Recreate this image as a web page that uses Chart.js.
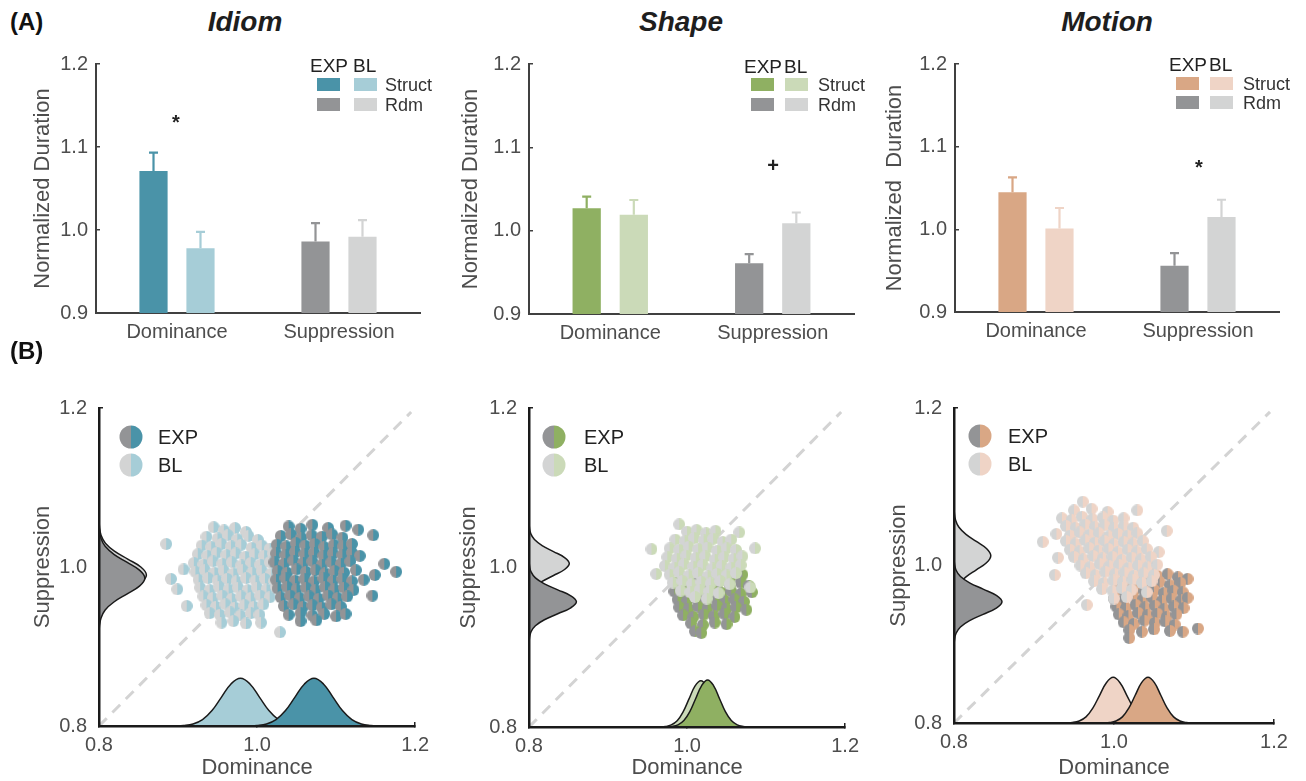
<!DOCTYPE html>
<html>
<head>
<meta charset="utf-8">
<script src="https://cdn.jsdelivr.net/npm/chart.js@4.4.1/dist/chart.umd.min.js"></script>
<style>
  body { margin: 0; background: #fff; width: 1306px; height: 781px; position: relative; overflow: hidden;
         font-family: "Liberation Sans", Arial, Helvetica, sans-serif; }
  canvas { position: absolute; }
  .sw { position: absolute; width: 23px; height: 13px; }
  .dot { position: absolute; width: 23px; height: 23px; border-radius: 50%; transform: translate(-50%, -50%); }
</style>
</head>
<body>
<script>
// ---- data ----
const categories = ['Dominance', 'Suppression'];
const barTicks = [0.9, 1.0, 1.1, 1.2];
const scatterTicks = [0.8, 1.0, 1.2];

const idiomExp = [1.071, 0.986];
const idiomExpErr = [0.0235, 0.0235];
const idiomBl = [0.978, 0.992];
const idiomBlErr = [0.021, 0.021];

const shapeExp = [1.027, 0.961];
const shapeExpErr = [0.015, 0.012];
const shapeBl = [1.019, 1.009];
const shapeBlErr = [0.019, 0.014];

const motionExp = [1.045, 0.956];
const motionExpErr = [0.019, 0.0165];
const motionBl = [1.001, 1.015];
const motionBlErr = [0.026, 0.022];

// bootstrap clouds: [dominance, suppression]
const idiomBlPts = [
  [0.945,1.050],[0.958,1.046],[0.972,1.049],[0.986,1.044],
  [0.936,1.038],[0.950,1.036],[0.963,1.040],[0.975,1.035],[0.989,1.039],[1.001,1.034],
  [0.885,1.029],[0.930,1.027],[0.942,1.025],[0.955,1.029],[0.967,1.026],[0.980,1.028],[0.993,1.024],[1.006,1.027],[1.016,1.023],
  [0.925,1.016],[0.937,1.014],[0.949,1.018],[0.961,1.015],[0.973,1.017],[0.985,1.013],[0.997,1.016],[1.009,1.014],[1.020,1.017],
  [0.920,1.005],[0.932,1.003],[0.944,1.007],[0.956,1.004],[0.968,1.006],[0.980,1.002],[0.992,1.005],[1.004,1.003],[1.016,1.006],[1.025,1.001],
  [0.907,0.997],[0.922,0.994],[0.934,0.996],[0.946,0.993],[0.958,0.995],[0.970,0.992],[0.982,0.996],[0.994,0.993],[1.006,0.995],[1.018,0.992],
  [0.891,0.985],[0.926,0.984],[0.938,0.986],[0.950,0.983],[0.962,0.985],[0.974,0.982],[0.986,0.986],[0.998,0.983],[1.010,0.985],[1.022,0.982],
  [0.899,0.972],[0.928,0.974],[0.940,0.971],[0.952,0.975],[0.964,0.972],[0.976,0.974],[0.988,0.971],[1.000,0.974],[1.012,0.972],[1.024,0.975],
  [0.932,0.963],[0.944,0.961],[0.956,0.964],[0.968,0.960],[0.980,0.963],[0.992,0.961],[1.004,0.964],[1.016,0.962],
  [0.911,0.951],[0.936,0.952],[0.948,0.950],[0.960,0.953],[0.972,0.949],[0.984,0.952],[0.996,0.950],[1.008,0.953],
  [0.940,0.942],[0.953,0.940],[0.966,0.943],[0.979,0.939],[0.992,0.942],[1.003,0.940],
  [0.955,0.930],[0.970,0.932],[0.986,0.929],[1.005,0.930],[1.029,0.918]
];
const idiomExpPts = [
  [1.040,1.051],[1.055,1.048],[1.070,1.053],[1.090,1.049],[1.112,1.052],[1.128,1.047],
  [1.030,1.039],[1.043,1.041],[1.056,1.037],[1.069,1.040],[1.082,1.038],[1.095,1.041],[1.108,1.037],[1.147,1.040],
  [1.025,1.028],[1.037,1.026],[1.049,1.030],[1.061,1.027],[1.073,1.029],[1.085,1.025],[1.097,1.028],[1.109,1.026],[1.120,1.029],
  [1.024,1.017],[1.036,1.015],[1.048,1.019],[1.060,1.016],[1.072,1.018],[1.084,1.014],[1.096,1.017],[1.108,1.015],[1.120,1.018],[1.130,1.014],
  [1.022,1.006],[1.034,1.004],[1.046,1.008],[1.058,1.005],[1.070,1.007],[1.082,1.003],[1.094,1.006],[1.106,1.004],[1.118,1.007],[1.161,1.004],
  [1.026,0.995],[1.038,0.993],[1.050,0.997],[1.062,0.994],[1.074,0.996],[1.086,0.992],[1.098,0.995],[1.110,0.993],[1.125,0.996],[1.149,0.990],[1.176,0.994],
  [1.024,0.984],[1.036,0.986],[1.048,0.983],[1.060,0.985],[1.072,0.982],[1.084,0.986],[1.096,0.983],[1.108,0.985],[1.120,0.982],[1.135,0.984],
  [1.026,0.973],[1.038,0.975],[1.050,0.972],[1.062,0.974],[1.074,0.971],[1.086,0.975],[1.098,0.972],[1.110,0.974],[1.122,0.971],
  [1.030,0.962],[1.042,0.964],[1.054,0.961],[1.066,0.963],[1.078,0.960],[1.090,0.964],[1.102,0.961],[1.114,0.963],[1.146,0.964],
  [1.034,0.951],[1.046,0.953],[1.058,0.950],[1.070,0.952],[1.082,0.949],[1.094,0.953],[1.106,0.950],
  [1.040,0.940],[1.055,0.942],[1.070,0.939],[1.085,0.941],[1.100,0.938],[1.112,0.941],
  [1.055,0.932],[1.075,0.933]
];
const shapeBlPts = [
  [0.990,1.054],
  [1.000,1.045],[1.012,1.047],[1.024,1.043],[1.036,1.046],[1.066,1.044],
  [0.985,1.035],[0.997,1.033],[1.009,1.037],[1.021,1.034],[1.033,1.036],[1.045,1.032],[1.056,1.035],
  [0.955,1.023],[0.978,1.024],[0.990,1.022],[1.002,1.026],[1.014,1.023],[1.026,1.025],[1.038,1.021],[1.050,1.024],[1.062,1.022],[1.086,1.024],
  [0.975,1.013],[0.987,1.011],[0.999,1.015],[1.011,1.012],[1.023,1.014],[1.035,1.010],[1.047,1.013],[1.059,1.011],[1.070,1.014],
  [0.972,1.002],[0.984,1.000],[0.996,1.004],[1.008,1.001],[1.020,1.003],[1.032,0.999],[1.044,1.002],[1.056,1.000],[1.068,1.003],
  [0.961,0.992],[0.978,0.991],[0.990,0.994],[1.002,0.990],[1.014,0.993],[1.026,0.989],[1.038,0.992],[1.050,0.990],[1.062,0.993],
  [0.982,0.981],[0.994,0.983],[1.006,0.979],[1.018,0.982],[1.030,0.980],[1.042,0.983],[1.054,0.979],[1.080,0.975],
  [0.992,0.971],[1.004,0.969],[1.016,0.972],[1.028,0.970],[1.040,0.968],
  [1.010,0.963],[1.025,0.961]
];
const shapeExpPts = [
  [1.040,0.990],[1.055,0.988],[1.070,0.991],
  [0.985,0.980],[0.998,0.978],[1.012,0.981],[1.026,0.979],[1.040,0.982],[1.054,0.978],[1.068,0.981],[1.078,0.977],
  [0.984,0.970],[0.996,0.968],[1.008,0.971],[1.020,0.969],[1.032,0.972],[1.044,0.968],[1.056,0.970],[1.068,0.967],[1.082,0.969],
  [0.988,0.960],[1.000,0.958],[1.012,0.961],[1.024,0.959],[1.036,0.962],[1.048,0.958],[1.060,0.960],[1.072,0.957],
  [0.990,0.950],[1.002,0.948],[1.014,0.951],[1.026,0.949],[1.038,0.952],[1.050,0.948],[1.062,0.950],[1.075,0.947],
  [0.995,0.940],[1.008,0.938],[1.021,0.941],[1.034,0.939],[1.047,0.942],[1.060,0.938],
  [1.005,0.930],[1.020,0.928],[1.035,0.931],[1.050,0.929],
  [1.010,0.920],[1.018,0.918]
];
const motionBlPts = [
  [0.961,1.081],
  [0.950,1.070],[0.972,1.072],[0.992,1.068],[1.029,1.070],
  [0.935,1.060],[0.947,1.058],[0.960,1.062],[0.973,1.059],[0.986,1.061],[0.999,1.057],[1.012,1.060],
  [0.940,1.050],[0.952,1.048],[0.964,1.052],[0.976,1.049],[0.988,1.051],[1.000,1.047],[1.012,1.050],[1.024,1.048],
  [0.928,1.040],[0.945,1.038],[0.957,1.042],[0.969,1.039],[0.981,1.041],[0.993,1.037],[1.005,1.040],[1.017,1.038],[1.029,1.041],[1.066,1.044],
  [0.911,1.030],[0.940,1.031],[0.952,1.028],[0.964,1.032],[0.976,1.029],[0.988,1.031],[1.000,1.027],[1.012,1.030],[1.024,1.028],[1.036,1.031],
  [0.945,1.020],[0.957,1.018],[0.969,1.022],[0.981,1.019],[0.993,1.021],[1.005,1.017],[1.017,1.020],[1.029,1.018],[1.041,1.021],[1.056,1.017],
  [0.930,1.010],[0.950,1.011],[0.962,1.008],[0.974,1.012],[0.986,1.009],[0.998,1.011],[1.010,1.007],[1.022,1.010],[1.034,1.008],[1.046,1.011],
  [0.958,1.000],[0.970,0.998],[0.982,1.002],[0.994,0.999],[1.006,1.001],[1.018,0.997],[1.030,1.000],[1.042,0.998],[1.054,1.001],
  [0.926,0.988],[0.965,0.990],[0.977,0.988],[0.989,0.992],[1.001,0.989],[1.013,0.991],[1.025,0.987],[1.037,0.990],[1.050,0.988],
  [0.975,0.980],[0.987,0.978],[0.999,0.981],[1.011,0.979],[1.023,0.982],[1.035,0.978],[1.047,0.980],
  [0.985,0.970],[0.998,0.968],[1.010,0.971],[1.022,0.969],[1.041,0.966],
  [0.966,0.950],[1.000,0.958],[1.016,0.960]
];
const motionExpPts = [
  [1.035,0.998],[1.050,1.000],
  [1.015,0.988],[1.028,0.986],[1.041,0.990],[1.054,0.987],[1.067,0.989],[1.080,0.985],[1.092,0.983],
  [1.005,0.978],[1.018,0.976],[1.031,0.980],[1.044,0.977],[1.057,0.979],[1.070,0.975],[1.083,0.978],
  [1.002,0.968],[1.014,0.966],[1.026,0.970],[1.038,0.967],[1.050,0.969],[1.062,0.965],[1.074,0.968],[1.086,0.966],
  [1.000,0.958],[1.012,0.956],[1.024,0.960],[1.036,0.957],[1.048,0.959],[1.060,0.955],[1.072,0.958],[1.084,0.956],[1.092,0.959],
  [1.003,0.948],[1.015,0.946],[1.027,0.950],[1.039,0.947],[1.051,0.949],[1.063,0.945],[1.075,0.948],[1.087,0.946],
  [1.006,0.938],[1.018,0.936],[1.030,0.940],[1.042,0.937],[1.054,0.939],[1.066,0.935],[1.078,0.938],
  [1.012,0.928],[1.025,0.926],[1.038,0.930],[1.051,0.927],[1.064,0.929],[1.076,0.925],[1.105,0.920],
  [1.019,0.918],[1.035,0.916],[1.050,0.919],[1.070,0.917],[1.086,0.916],
  [1.019,0.908]
];

// marginal density heights above the axis (0.8), sampled along each curve
const dens60 = [0, 0.0007, 0.0026, 0.0081, 0.0195, 0.0364, 0.0529, 0.060, 0.0529, 0.0364, 0.0195, 0.0081, 0.0026, 0.0007, 0];
const dens59 = [0, 0.0006, 0.0026, 0.0080, 0.0192, 0.0358, 0.0520, 0.059, 0.0520, 0.0358, 0.0192, 0.0080, 0.0026, 0.0006, 0];
const dens58 = [0, 0.0006, 0.0026, 0.0078, 0.0189, 0.0352, 0.0512, 0.058, 0.0512, 0.0352, 0.0189, 0.0078, 0.0026, 0.0006, 0];
const dens51 = [0, 0.0006, 0.0022, 0.0069, 0.0166, 0.0310, 0.0450, 0.051, 0.0450, 0.0310, 0.0166, 0.0069, 0.0022, 0.0006, 0];
const dens46 = [0, 0.0005, 0.0020, 0.0062, 0.0150, 0.0279, 0.0406, 0.046, 0.0406, 0.0279, 0.0150, 0.0062, 0.0020, 0.0005, 0];

const idiomDomBlPos  = [0.895,0.907,0.919,0.931,0.943,0.955,0.967,0.979,0.991,1.003,1.015,1.027,1.039,1.051,1.063];
const idiomDomExpPos = [0.988,1.000,1.012,1.024,1.036,1.048,1.060,1.072,1.084,1.096,1.108,1.120,1.132,1.144,1.156];
const idiomSupBlPos  = [0.920,0.930,0.940,0.950,0.960,0.970,0.980,0.990,1.000,1.010,1.020,1.030,1.040,1.050,1.060];
const idiomSupExpPos = [0.916,0.926,0.936,0.946,0.956,0.966,0.976,0.986,0.996,1.006,1.016,1.026,1.036,1.046,1.056];
const shapeDomBlPos  = [0.965,0.9725,0.980,0.9875,0.995,1.0025,1.010,1.0175,1.025,1.0325,1.040,1.0475,1.055,1.0625,1.070];
const shapeDomExpPos = [0.9735,0.981,0.9885,0.996,1.0035,1.011,1.0185,1.026,1.0335,1.041,1.0485,1.056,1.0635,1.071,1.0785];
const shapeSupBlPos  = [0.9525,0.960,0.9675,0.975,0.9825,0.990,0.9975,1.005,1.0125,1.020,1.0275,1.035,1.0425,1.050,1.0575];
const shapeSupExpPos = [0.9045,0.912,0.9195,0.927,0.9345,0.942,0.9495,0.957,0.9645,0.972,0.9795,0.987,0.9945,1.002,1.0095];
const motionDomBlPos  = [0.9395,0.948,0.9565,0.965,0.9735,0.982,0.9905,0.999,1.0075,1.016,1.0245,1.033,1.0415,1.050,1.0585];
const motionDomExpPos = [0.9865,0.9945,1.0025,1.0105,1.0185,1.0265,1.0345,1.0425,1.0505,1.0585,1.0665,1.0745,1.0825,1.0905,1.0985];
const motionSupBlPos  = [0.9495,0.9585,0.9675,0.9765,0.9855,0.9945,1.0035,1.0125,1.0215,1.0305,1.0395,1.0485,1.0575,1.0665,1.0755];
const motionSupExpPos = [0.898,0.906,0.914,0.922,0.930,0.938,0.946,0.954,0.962,0.970,0.978,0.986,0.994,1.002,1.010];

// ---- colours ----
const gray = '#939496', grayLight = '#d3d4d4';
const teal = '#4a93a8', tealLight = '#a6cdd7';
const green = '#8fb062', greenLight = '#cbdab8';
const orange = '#d9a785', orangeLight = '#efd4c6';
const textGray = '#4d4d4d';

Chart.defaults.font.family = "'Liberation Sans', Arial, Helvetica, sans-serif";
Chart.defaults.animation = false;

function txt(s, x, y, css, align) {
  const d = document.createElement('div');
  d.textContent = s;
  d.style.cssText = 'position:absolute;white-space:pre;line-height:1;left:' + x + 'px;top:' + y + 'px;transform:translate(' +
    (align === 'center' ? '-50%' : '0') + ',-50%);' + css;
  document.body.appendChild(d);
}

function makeCanvas(box) {
  const c = document.createElement('canvas');
  c.width = box[2]; c.height = box[3];
  c.style.left = box[0] + 'px'; c.style.top = box[1] + 'px';
  document.body.appendChild(c);
  return c;
}

// fix the plot area: axis title centre at titleX, chart area = area
function geom(box, area, titleX) {
  const half = 13.2;
  return {
    padding: { left: titleX - half - box[0], top: area[1] - box[1], right: box[0] + box[2] - area[2], bottom: 0 },
    yWidth: area[0] - (titleX - half),
    xHeight: box[1] + box[3] - area[3]
  };
}

function errorBars(errs) {
  return {
    id: 'errbars',
    afterDatasetsDraw(chart) {
      const ctx = chart.ctx, y = chart.scales.y;
      chart.data.datasets.forEach((ds, di) => {
        chart.getDatasetMeta(di).data.forEach((bar, i) => {
          const top = y.getPixelForValue(ds.data[i] + errs[di][i]);
          ctx.save();
          ctx.strokeStyle = ds.backgroundColor[i];
          ctx.lineWidth = 2.2;
          ctx.beginPath();
          ctx.moveTo(bar.x, bar.y); ctx.lineTo(bar.x, top);
          ctx.moveTo(bar.x - 4.5, top + 1); ctx.lineTo(bar.x + 4.5, top + 1);
          ctx.stroke();
          ctx.restore();
        });
      });
    }
  };
}

const barPanels = [
  { title: 'Idiom', yTitle: 'Normalized Duration', exp: idiomExp, expErr: idiomExpErr, bl: idiomBl, blErr: idiomBlErr,
    col: teal, light: tealLight, box: [0, 40, 435, 310], area: [96, 58, 420, 313], titleX: 42.5, head: [245, 22],
    leg: { x1: 317, x2: 354, tx: 385, hy: 65, r1: 78, r2: 98 }, sig: ['*', 176, 122] },
  { title: 'Shape', yTitle: 'Normalized Duration', exp: shapeExp, expErr: shapeExpErr, bl: shapeBl, blErr: shapeBlErr,
    col: green, light: greenLight, box: [440, 40, 430, 310], area: [529, 59, 854, 314], titleX: 471, head: [681, 22],
    leg: { x1: 751, x2: 785, tx: 818, hy: 66, r1: 78, r2: 98 }, sig: ['+', 773, 165] },
  { title: 'Motion', yTitle: 'Normalized  Duration', exp: motionExp, expErr: motionExpErr, bl: motionBl, blErr: motionBlErr,
    col: orange, light: orangeLight, box: [870, 40, 436, 310], area: [955, 57, 1279, 312], titleX: 895, head: [1107, 22],
    leg: { x1: 1176, x2: 1210, tx: 1243, hy: 64, r1: 77, r2: 96 }, sig: ['*', 1199, 167] }
];

barPanels.forEach(p => {
  const g = geom(p.box, p.area, p.titleX);
  new Chart(makeCanvas(p.box), {
    type: 'bar',
    data: {
      labels: categories,
      datasets: [
        { label: 'EXP', data: p.exp, backgroundColor: [p.col, gray], categoryPercentage: 0.58, barPercentage: 0.6 },
        { label: 'BL', data: p.bl, backgroundColor: [p.light, grayLight], categoryPercentage: 0.58, barPercentage: 0.6 }
      ]
    },
    options: {
      responsive: false, devicePixelRatio: 1, events: [],
      layout: { padding: g.padding },
      plugins: { legend: { display: false }, tooltip: { enabled: false } },
      scales: {
        x: {
          grid: { display: false, drawTicks: false },
          border: { color: '#404040', width: 2 },
          ticks: { color: textGray, font: { size: 20 }, padding: 7 },
          afterFit: s => { s.height = g.xHeight; }
        },
        y: {
          min: 0.9, max: 1.2,
          afterBuildTicks: s => { s.ticks = barTicks.map(v => ({ value: v })); },
          ticks: { color: textGray, font: { size: 20 }, padding: 12, callback: v => v.toFixed(1) },
          grid: { drawOnChartArea: false, tickLength: -4, color: '#404040', lineWidth: 1.5 },
          border: { color: '#404040', width: 2 },
          title: { display: true, text: p.yTitle, color: textGray, font: { size: 22 }, padding: 0 },
          afterFit: s => { s.width = g.yWidth; }
        }
      }
    },
    plugins: [errorBars([p.expErr, p.blErr])]
  });

  txt(p.title, p.head[0], p.head[1], 'font-size:28px;font-weight:bold;font-style:italic;color:#1e1e1e;', 'center');
  const L = p.leg;
  txt('EXP', L.x1 - 7, L.hy, 'font-size:19px;color:#222;', 'left');
  txt('BL', L.x2 - 1, L.hy, 'font-size:19px;color:#222;', 'left');
  [[L.x1, L.r1, p.col], [L.x2, L.r1, p.light], [L.x1, L.r2, gray], [L.x2, L.r2, grayLight]].forEach(s => {
    const d = document.createElement('div');
    d.className = 'sw';
    d.style.left = s[0] + 'px'; d.style.top = s[1] + 'px'; d.style.background = s[2];
    document.body.appendChild(d);
  });
  txt('Struct', L.tx, L.r1 + 6.5, 'font-size:18px;color:#333;', 'left');
  txt('Rdm', L.tx, L.r2 + 6.5, 'font-size:18px;color:#333;', 'left');
  txt(p.sig[0], p.sig[1], p.sig[2], 'font-size:20px;font-weight:bold;color:#222;', 'center');
});

// ---- bottom row ----
function halfDot(left, right, r) {
  const c = document.createElement('canvas');
  c.width = c.height = r * 2;
  const ctx = c.getContext('2d');
  ctx.fillStyle = left;
  ctx.beginPath(); ctx.moveTo(r, 0); ctx.arc(r, r, r, -Math.PI / 2, Math.PI / 2, true); ctx.closePath(); ctx.fill();
  ctx.fillStyle = right;
  ctx.beginPath(); ctx.moveTo(r, 0); ctx.arc(r, r, r, -Math.PI / 2, Math.PI / 2, false); ctx.closePath(); ctx.fill();
  return c;
}

const DOT_R = 6;

function cloud(pts, img, order) {
  return { type: 'scatter', data: pts.map(p => ({ x: p[0], y: p[1] })), pointStyle: img, pointRadius: DOT_R, order };
}
function bottomDensity(pos, h, color, order) {
  return { type: 'line', data: pos.map((x, i) => ({ x, y: 0.8 + h[i] })), fill: 'origin', backgroundColor: color,
    borderColor: '#1a1a1a', borderWidth: 1.5, pointRadius: 0, tension: 0.4, order };
}
function leftDensity(pos, h, color, order) {
  return { type: 'line', data: pos.map((y, i) => ({ x: 0.8 + h[i], y })), fill: 'shape', backgroundColor: color,
    borderColor: '#1a1a1a', borderWidth: 1.5, pointRadius: 0, tension: 0.4, order };
}
function diagonal() {
  return { type: 'line', data: [{ x: 0.8, y: 0.8 }, { x: 1.195, y: 1.195 }], borderColor: '#d3d3d3', borderWidth: 3,
    borderDash: [11, 8], pointRadius: 0, fill: false, order: 20 };
}

const scatterPanels = [
  { box: [0, 380, 440, 401], area: [99, 405, 419, 726], titleX: 42.5, col: teal, light: tealLight, legX: 131, legY: [437, 465], legT: 158,
    sets: () => [
      diagonal(),
      cloud(idiomBlPts, halfDot(grayLight, tealLight, DOT_R), 6),
      cloud(idiomExpPts, halfDot(gray, teal, DOT_R), 5),
      bottomDensity(idiomDomBlPos, dens60, tealLight, 3),
      bottomDensity(idiomDomExpPos, dens60, teal, 2),
      leftDensity(idiomSupBlPos, dens60, grayLight, 3),
      leftDensity(idiomSupExpPos, dens58, gray, 2)
    ] },
  { box: [440, 380, 430, 401], area: [529, 407, 849, 727], titleX: 469, col: green, light: greenLight, legX: 554, legY: [437, 465], legT: 584,
    sets: () => [
      diagonal(),
      cloud(shapeExpPts, halfDot(gray, green, DOT_R), 6),
      cloud(shapeBlPts, halfDot(grayLight, greenLight, DOT_R), 5),
      bottomDensity(shapeDomBlPos, dens58, greenLight, 3),
      bottomDensity(shapeDomExpPos, dens59, green, 2),
      leftDensity(shapeSupBlPos, dens51, grayLight, 3),
      leftDensity(shapeSupExpPos, dens60, gray, 2)
    ] },
  { box: [870, 380, 436, 401], area: [954, 404, 1274, 723], titleX: 899, col: orange, light: orangeLight, legX: 980, legY: [436, 464], legT: 1008,
    sets: () => [
      diagonal(),
      cloud(motionExpPts, halfDot(gray, orange, DOT_R), 6),
      cloud(motionBlPts, halfDot(grayLight, orangeLight, DOT_R), 5),
      bottomDensity(motionDomBlPos, dens58, orangeLight, 3),
      bottomDensity(motionDomExpPos, dens58, orange, 2),
      leftDensity(motionSupBlPos, dens46, grayLight, 3),
      leftDensity(motionSupExpPos, dens60, gray, 2)
    ] }
];

function linAxis(title, g, isX) {
  const ax = {
    type: 'linear', min: 0.8, max: 1.2,
    afterBuildTicks: s => { s.ticks = scatterTicks.map(v => ({ value: v })); },
    ticks: { color: textGray, font: { size: 20 }, padding: isX ? 11 : 16, callback: v => v.toFixed(1) },
    grid: { drawOnChartArea: false, tickLength: -4, color: '#222', lineWidth: 1.5 },
    border: { color: '#1a1a1a', width: 2.5, z: 1 },
    title: { display: true, text: title, color: textGray, font: { size: 22 }, padding: 0 }
  };
  if (isX) ax.afterFit = s => { s.height = g.xHeight; };
  else ax.afterFit = s => { s.width = g.yWidth; };
  return ax;
}

scatterPanels.forEach(p => {
  const g = geom(p.box, p.area, p.titleX);
  new Chart(makeCanvas(p.box), {
    type: 'scatter',
    data: { datasets: p.sets() },
    options: {
      responsive: false, devicePixelRatio: 1, events: [],
      layout: { padding: g.padding },
      plugins: { legend: { display: false }, tooltip: { enabled: false } },
      scales: { x: linAxis('Dominance', g, true), y: linAxis('Suppression', g, false) }
    }
  });
  [[gray, p.col, 'EXP'], [grayLight, p.light, 'BL']].forEach((l, i) => {
    const d = document.createElement('div');
    d.className = 'dot';
    d.style.left = p.legX + 'px'; d.style.top = p.legY[i] + 'px';
    d.style.background = 'linear-gradient(90deg,' + l[0] + ' 50%,' + l[1] + ' 50%)';
    document.body.appendChild(d);
    txt(l[2], p.legT, p.legY[i], 'font-size:20px;color:#222;', 'left');
  });
});

txt('(A)', 10, 22, 'font-size:24px;font-weight:bold;color:#111;', 'left');
txt('(B)', 10, 351, 'font-size:24px;font-weight:bold;color:#111;', 'left');
</script>
</body>
</html>
